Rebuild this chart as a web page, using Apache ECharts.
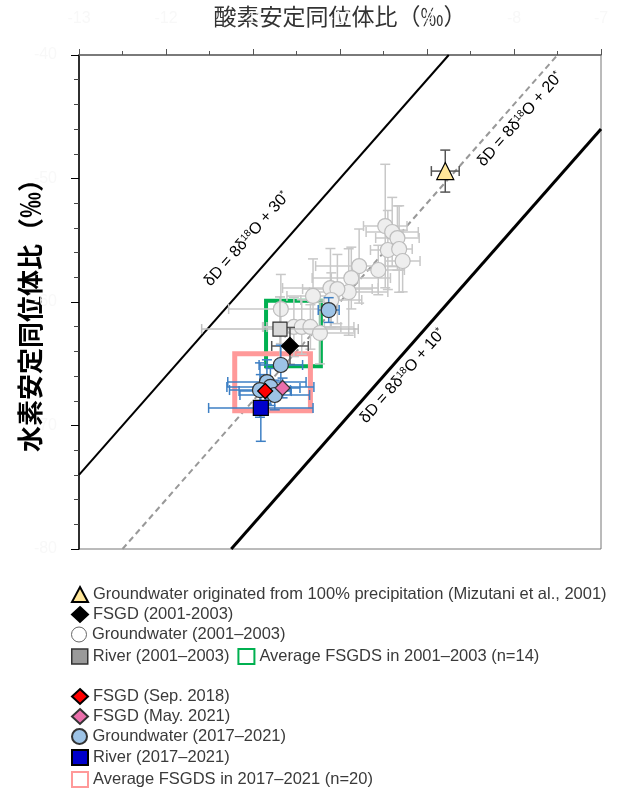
<!DOCTYPE html>
<html>
<head>
<meta charset="utf-8">
<script src="https://cdn.jsdelivr.net/npm/echarts@6/dist/echarts.min.js"></script>
<style>
  html, body { margin: 0; padding: 0; background: #fff; }
  #chart { width: 618px; height: 790px; }
</style>
</head>
<body>
<div id="chart"></div>
<script>
// axis ticks
var xTicks = [-13, -12, -11, -10, -9, -8, -7]
var yTicks = [-80, -70, -60, -50, -40]

// meteoric water lines dD = 8 d18O + d (end points)
var line30 = [[-13, -74], [-8.75, -40]]
var line20 = [[-12.5, -80], [-7.5, -40]]
var line10 = [[-11.25, -80], [-7, -46]]

// groundwater originated from 100% precipitation
var rainGw = [[-8.79, -49.4]]
var rainGwErr = [[0.16, 1.7]]

// 2001-2003
var gw2001 = [
  [-9.48, -53.85], [-9.40, -54.33], [-9.34, -54.82], [-9.45, -55.79], [-9.32, -55.71],
  [-9.28, -56.68], [-9.78, -57.09], [-9.87, -58.06], [-9.56, -57.41], [-9.90, -59.19],
  [-10.11, -58.87], [-10.03, -58.95], [-10.10, -59.84], [-10.31, -59.51], [-10.68, -60.57],
  [-10.53, -62.02], [-10.44, -62.02], [-10.34, -62.02], [-10.23, -62.51]
]
var gw2001Err = [
  [0.25, 5.0], [0.3, 2.8], [0.25, 2.6], [0.2, 3.2], [0.15, 3.5],
  [0.2, 2.5], [0.5, 3.0], [0.45, 2.5], [0.3, 2.0], [0.45, 3.5],
  [0.55, 3.2], [0.4, 2.8], [0.35, 2.2], [0.3, 3.0], [0.6, 2.8],
  [0.35, 2.4], [0.45, 2.2], [0.5, 1.8], [0.4, 2.5]
]
var river2001 = [[-10.69, -62.19]]
var river2001Err = [[0.9, 2.6]]
var fsgd2001 = [[-10.575, -63.56]]
var fsgd2001Err = [[0.21, 1.5]]
var avg2001 = [[-10.85, -59.9, -10.22, -65.2]]

// 2017-2021
var gw2017 = [[-10.13, -60.65], [-10.68, -65.10], [-10.84, -66.48], [-10.80, -66.88], [-10.92, -67.13], [-10.75, -67.53]]
var gw2017Err = [[0.12, 1.0], [0.25, 1.6], [0.45, 1.8], [0.5, 1.5], [0.35, 2.2], [0.4, 1.2]]
var river2017 = [[-10.91, -68.58]]
var river2017Err = [[0.6, 2.7]]
var fsgdSep2018 = [[-10.86, -67.21]]
var fsgdSep2018Err = [[0.3, 1.0]]
var fsgdMay2021 = [[-10.66, -66.96]]
var fsgdMay2021Err = [[0.2, 0.8]]
var avg2017 = [[-11.21, -64.2, -10.34, -68.8]]

// line labels: position and d-excess
var lineLabels = [[-11.07, -54.9, 30], [-7.93, -45.2, 20], [-9.28, -66.0, 10]]

var FONT = 'Liberation Sans, Arial, sans-serif'

function withErr(pts, errs) {
  return pts.map(function (p, i) { return [p[0], p[1], errs[i][0], errs[i][1]] })
}

function errorBars(data, color, z) {
  return {
    type: 'custom',
    z: z,
    silent: true,
    data: data,
    encode: { x: 0, y: 1 },
    renderItem: function (params, api) {
      var x = api.value(0)
      var y = api.value(1)
      var ex = api.value(2)
      var ey = api.value(3)
      var c = api.coord([x, y])
      var l = api.coord([x - ex, y])
      var r = api.coord([x + ex, y])
      var t = api.coord([x, y + ey])
      var b = api.coord([x, y - ey])
      var cap = 5
      var st = { stroke: color, lineWidth: 1.5 }
      return {
        type: 'group',
        children: [
          { type: 'line', shape: { x1: l[0], y1: c[1], x2: r[0], y2: c[1] }, style: st },
          { type: 'line', shape: { x1: l[0], y1: c[1] - cap, x2: l[0], y2: c[1] + cap }, style: st },
          { type: 'line', shape: { x1: r[0], y1: c[1] - cap, x2: r[0], y2: c[1] + cap }, style: st },
          { type: 'line', shape: { x1: c[0], y1: t[1], x2: c[0], y2: b[1] }, style: st },
          { type: 'line', shape: { x1: c[0] - cap, y1: t[1], x2: c[0] + cap, y2: t[1] }, style: st },
          { type: 'line', shape: { x1: c[0] - cap, y1: b[1], x2: c[0] + cap, y2: b[1] }, style: st }
        ]
      }
    }
  }
}

function avgBox(name, data, color, width) {
  return {
    name: name,
    type: 'custom',
    z: 2,
    silent: true,
    data: data,
    itemStyle: { color: color },
    encode: { x: [0, 2], y: [1, 3] },
    renderItem: function (params, api) {
      var p1 = api.coord([api.value(0), api.value(1)])
      var p2 = api.coord([api.value(2), api.value(3)])
      return {
        type: 'rect',
        shape: { x: p1[0], y: p1[1], width: p2[0] - p1[0], height: p2[1] - p1[1] },
        style: { fill: null, stroke: color, lineWidth: width }
      }
    }
  }
}

function points(name, data, symbol, size, fill, border, z) {
  return {
    name: name,
    type: 'scatter',
    z: z,
    symbol: symbol,
    symbolSize: size,
    data: data,
    itemStyle: { color: fill, borderColor: border, borderWidth: 1.2, opacity: 1 }
  }
}

function mwl(data, width, color, type) {
  return {
    type: 'line',
    z: 1,
    silent: true,
    data: data,
    symbol: 'none',
    lineStyle: { width: width, color: color, type: type }
  }
}

var chart = echarts.init(document.getElementById('chart'))

var legendText = { fontSize: 16.5, color: '#3a3a3a', fontFamily: FONT }
function legendRow(top, items) {
  return {
    left: 71,
    top: top,
    padding: 0,
    itemWidth: 16,
    itemHeight: 15,
    itemGap: 8,
    selectedMode: false,
    textStyle: legendText,
    data: items
  }
}

var option = {
  backgroundColor: '#fff',
  animation: false,
  grid: {
    left: 79, right: 17, top: 55, bottom: 241,
    containLabel: false, outerBoundsMode: 'none',
    show: true, borderColor: '#777', borderWidth: 1
  },
  xAxis: {
    type: 'value',
    position: 'top',
    min: -13,
    max: -7,
    interval: 1,
    name: '酸素安定同位体比（‰）',
    nameLocation: 'middle',
    nameGap: 27,
    nameMoveOverlap: false,
    nameTextStyle: { fontSize: 23, color: '#333', fontFamily: 'Noto Sans CJK JP' },
    axisLine: { onZero: false, lineStyle: { color: '#666', width: 1.5 } },
    axisTick: { length: 6, lineStyle: { color: '#555' } },
    minorTick: { show: true, splitNumber: 2, length: 4, lineStyle: { color: '#555' } },
    axisLabel: { color: '#f8f8f8', fontSize: 16, margin: 28, hideOverlap: false, fontFamily: FONT },
    splitLine: { show: false }
  },
  yAxis: {
    type: 'value',
    min: -80,
    max: -40,
    interval: 10,
    name: '水素安定同位体比（‰）',
    nameLocation: 'middle',
    nameGap: 36,
    nameMoveOverlap: false,
    nameRotate: 90,
    nameTextStyle: { fontSize: 26, color: '#000', fontWeight: 'bold', fontFamily: 'Noto Sans CJK JP', padding: [0, 14, 0, 0] },
    axisLine: { onZero: false, lineStyle: { color: '#000', width: 1.5 } },
    axisTick: { length: 8, lineStyle: { color: '#000' } },
    minorTick: { show: true, splitNumber: 5, length: 5, lineStyle: { color: '#444' } },
    axisLabel: { color: '#f8f8f8', fontSize: 16, margin: 22, hideOverlap: false, fontFamily: FONT },
    splitLine: { show: false }
  },
  legend: [
    legendRow(586, [{ name: 'Groundwater originated from 100% precipitation (Mizutani et al., 2001)', icon: 'triangle' }]),
    legendRow(606, [{ name: 'FSGD (2001-2003)', icon: 'diamond' }]),
    legendRow(626, [{ name: 'Groundwater (2001–2003)', icon: 'circle', itemStyle: { color: '#fff', borderColor: '#666', borderWidth: 1 } }]),
    legendRow(648, [
      { name: 'River (2001–2003)', icon: 'rect', itemStyle: { color: '#9a9a9a', borderColor: '#333', borderWidth: 1.5 } },
      { name: 'Average FSGDS in 2001–2003 (n=14)', icon: 'rect', itemStyle: { color: '#fff', borderColor: '#00b050', borderWidth: 2 } }
    ]),
    legendRow(688, [{ name: 'FSGD (Sep. 2018)', icon: 'diamond' }]),
    legendRow(708, [{ name: 'FSGD (May. 2021)', icon: 'diamond' }]),
    legendRow(728, [{ name: 'Groundwater (2017–2021)', icon: 'circle' }]),
    legendRow(749, [{ name: 'River (2017–2021)', icon: 'rect' }]),
    legendRow(771, [{ name: 'Average FSGDS in 2017–2021 (n=20)', icon: 'rect', itemStyle: { color: '#fff', borderColor: '#ff9999', borderWidth: 2 } }])
  ],
  series: [
    mwl(line30, 2, '#000', 'solid'),
    mwl(line20, 2, '#999', [6, 4]),
    mwl(line10, 3, '#000', 'solid'),
    {
      type: 'custom',
      z: 1,
      silent: true,
      data: lineLabels,
      encode: { x: 0, y: 1 },
      renderItem: function (params, api) {
        var c = api.coord([api.value(0), api.value(1)])
        var s = api.size([1, 8])
        var rot = Math.atan2(s[1], s[0])
        return {
          type: 'text',
          x: c[0],
          y: c[1],
          rotation: rot,
          style: {
            text: 'δD = 8δ{sup|18}O + ' + api.value(2) + '{sup|*}',
            fill: '#000',
            fontSize: 16,
            fontFamily: FONT,
            align: 'center',
            verticalAlign: 'middle',
            rich: {
              sup: { fontSize: 10, fontFamily: FONT, fill: '#000', verticalAlign: 'top', lineHeight: 10 }
            }
          }
        }
      }
    },
    avgBox('Average FSGDS in 2001–2003 (n=14)', avg2001, '#00b050', 4),
    avgBox('Average FSGDS in 2017–2021 (n=20)', avg2017, '#ff9999', 5),
    errorBars(withErr(gw2001, gw2001Err), '#c8c8c8', 3),
    points('Groundwater (2001–2003)', gw2001, 'circle', 15, '#eeeeee', '#bdbdbd', 4),
    errorBars(withErr(river2001, river2001Err), '#bfbfbf', 5),
    errorBars(withErr(rainGw, rainGwErr), '#555', 5),
    errorBars(withErr(fsgd2001, fsgd2001Err), '#555', 5),
    errorBars(withErr(gw2017, gw2017Err), '#3d7fc4', 6),
    errorBars(withErr(river2017, river2017Err), '#3d7fc4', 6),
    errorBars(withErr(fsgdSep2018, fsgdSep2018Err), '#3d7fc4', 6),
    errorBars(withErr(fsgdMay2021, fsgdMay2021Err), '#3d7fc4', 6),
    points('River (2001–2003)', river2001, 'rect', 14, '#d9d9d9', '#333', 7),
    points('Groundwater originated from 100% precipitation (Mizutani et al., 2001)', rainGw, 'triangle', 17, '#ffe699', '#000', 7),
    points('FSGD (2001-2003)', fsgd2001, 'diamond', 17, '#000', '#000', 8),
    points('Groundwater (2017–2021)', gw2017, 'circle', 15, '#9dc3e6', '#333', 7),
    points('River (2017–2021)', river2017, 'rect', 15, '#0000cc', '#000', 8),
    points('FSGD (May. 2021)', fsgdMay2021, 'diamond', 15, '#ea6fab', '#333', 8),
    points('FSGD (Sep. 2018)', fsgdSep2018, 'diamond', 15, '#ff0000', '#000', 9)
  ]
}

chart.setOption(option)
</script>
</body>
</html>
